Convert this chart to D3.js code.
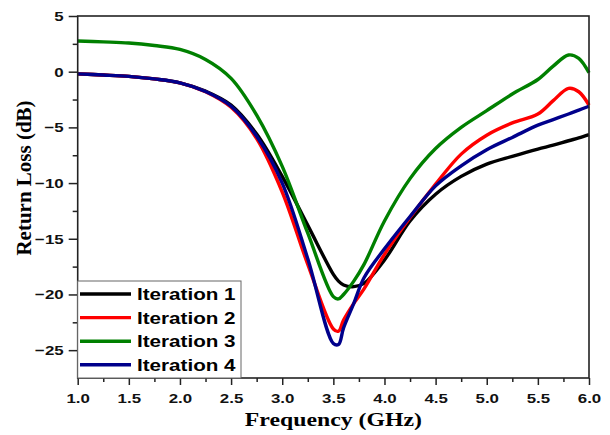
<!DOCTYPE html>
<html><head><meta charset="utf-8">
<script src="https://cdn.jsdelivr.net/npm/d3@7"></script>
<style>body{margin:0;background:#fff}svg{display:block}</style>
</head><body>
<svg id="chart" width="610" height="435"></svg>
<script>
const freq = [1.0,1.25,1.5,1.75,2.0,2.25,2.5,2.75,3.0,3.25,3.5,3.55,3.6,3.7,3.8,4.0,4.25,4.5,4.75,5.0,5.25,5.5,5.65,5.8,5.9,6.0];
const iter1 = [-0.2,-0.3,-0.42,-0.65,-1.0,-1.75,-3.0,-5.6,-9.4,-13.8,-18.2,-18.8,-19.15,-19.3,-19.0,-16.9,-13.4,-11.0,-9.4,-8.3,-7.6,-6.95,-6.6,-6.2,-5.95,-5.66];
const iter2 = [-0.2,-0.3,-0.42,-0.65,-1.0,-1.8,-3.2,-6.0,-10.8,-17.3,-23.1,-23.3,-22.3,-20.8,-19.5,-16.4,-13.1,-10.1,-7.4,-5.7,-4.6,-3.8,-2.6,-1.5,-1.8,-3.0];
const iter3 = [2.76,2.68,2.58,2.35,2.0,1.1,-0.6,-3.9,-8.5,-14.5,-20.2,-20.4,-20.0,-18.8,-17.3,-13.4,-9.6,-6.9,-5.0,-3.5,-2.0,-0.7,0.5,1.5,1.2,-0.1];
const iter4 = [-0.2,-0.3,-0.42,-0.65,-1.0,-1.78,-3.1,-5.8,-10.0,-16.8,-24.4,-24.5,-23.0,-20.8,-18.5,-15.9,-13.0,-10.25,-8.45,-7.0,-5.9,-4.8,-4.3,-3.8,-3.45,-3.1];
const seriesNames = ["Iteration 1","Iteration 2","Iteration 3","Iteration 4"];
const seriesColors = ["#000000","#ff0000","#008000","#00008b"];
const xTicks = [1.0,1.5,2.0,2.5,3.0,3.5,4.0,4.5,5.0,5.5,6.0];
const yTicks = [5,0,-5,-10,-15,-20,-25];
const xTitle = "Frequency (GHz)";
const yTitle = "Return Loss (dB)";

const series = [iter1,iter2,iter3,iter4];
const STRETCH = 1.25;
const svg = d3.select("#chart");
const L = 77.7, R = 589, T = 16, B = 378;
const x = d3.scaleLinear().domain([1,6]).range([L,R]);
const y = d3.scaleLinear().domain([-27.5,5]).range([B,T]);

function stretch(sel){
  sel.each(function(){
    const w = this.getComputedTextLength();
    d3.select(this).attr("textLength", w*STRETCH).attr("lengthAdjust","spacingAndGlyphs");
  });
}

// curves
const line = d3.line().x((d,i)=>x(freq[i])).y(d=>y(d)).curve(d3.curveCatmullRom.alpha(0.5));
const gLines = svg.append("g");
series.forEach((s,k)=>{
  gLines.append("path").datum(s).attr("d",line)
    .attr("fill","none").attr("stroke",seriesColors[k]).attr("stroke-width",3.4)
    .attr("stroke-linejoin","round");
});

// x axis
const xMinor = d3.range(1.25,6,0.5);
const gx = svg.append("g").attr("transform",`translate(0,${B})`);
gx.call(d3.axisBottom(x).tickValues(xMinor).tickSize(4).tickFormat(""));
gx.selectAll(".tick line").attr("stroke","#222").attr("stroke-width",1.5);
const gx2 = svg.append("g").attr("transform",`translate(0,${B})`);
gx2.call(d3.axisBottom(x).tickValues(xTicks).tickSize(7).tickPadding(8).tickFormat(d3.format(".1f")));
gx2.selectAll(".tick line").attr("stroke","#222").attr("stroke-width",1.5);
gx2.select(".domain").remove(); gx.select(".domain").remove();
gx2.selectAll("text").attr("font-family","Liberation Sans, Arial, sans-serif")
  .attr("font-weight","bold").attr("font-size",13.5).attr("fill","#111").call(stretch);

// y axis
const yMinor = d3.range(2.5,-27.5,-5);
const gy = svg.append("g").attr("transform",`translate(${L},0)`);
gy.call(d3.axisLeft(y).tickValues(yMinor).tickSize(5).tickFormat(""));
gy.selectAll(".tick line").attr("stroke","#222").attr("stroke-width",1.5);
const gy2 = svg.append("g").attr("transform",`translate(${L},0)`);
gy2.call(d3.axisLeft(y).tickValues(yTicks).tickSize(9).tickPadding(5).tickFormat(d3.format("d")));
gy2.selectAll(".tick line").attr("stroke","#222").attr("stroke-width",1.5);
gy.select(".domain").remove(); gy2.select(".domain").remove();
gy2.selectAll("text").attr("font-family","Liberation Sans, Arial, sans-serif")
  .attr("font-weight","bold").attr("font-size",13.5).attr("fill","#111").call(stretch);

// frame
svg.append("rect").attr("x",L).attr("y",T).attr("width",R-L).attr("height",B-T)
  .attr("fill","none").attr("stroke","#222").attr("stroke-width",1.6);

// legend
const lg = svg.append("g");
lg.append("rect").attr("x",L).attr("y",281).attr("width",241-L).attr("height",B-281)
  .attr("fill","#fff").attr("stroke","#666").attr("stroke-width",1);
seriesNames.forEach((n,k)=>{
  const ry = 294 + k*23.6;
  lg.append("line").attr("x1",80).attr("x2",131).attr("y1",ry).attr("y2",ry)
    .attr("stroke",seriesColors[k]).attr("stroke-width",3.4);
  lg.append("text").attr("x",137).attr("y",ry+6).text(n)
    .attr("font-family","Liberation Sans, Arial, sans-serif").attr("font-weight","bold")
    .attr("font-size",16.5).attr("fill","#000").call(stretch);
});

// titles
svg.append("text").attr("x",(L+R)/2).attr("y",426).attr("text-anchor","middle")
  .attr("font-family","Liberation Serif, Times New Roman, serif").attr("font-weight","bold")
  .attr("font-size",19).attr("fill","#000").text(xTitle).call(stretch);
svg.append("text").attr("transform",`translate(31,178) rotate(-90)`)
  .attr("text-anchor","middle")
  .attr("font-family","Liberation Serif, Times New Roman, serif").attr("font-weight","bold")
  .attr("font-size",21).attr("fill","#000").text(yTitle);
</script>
</body></html>
